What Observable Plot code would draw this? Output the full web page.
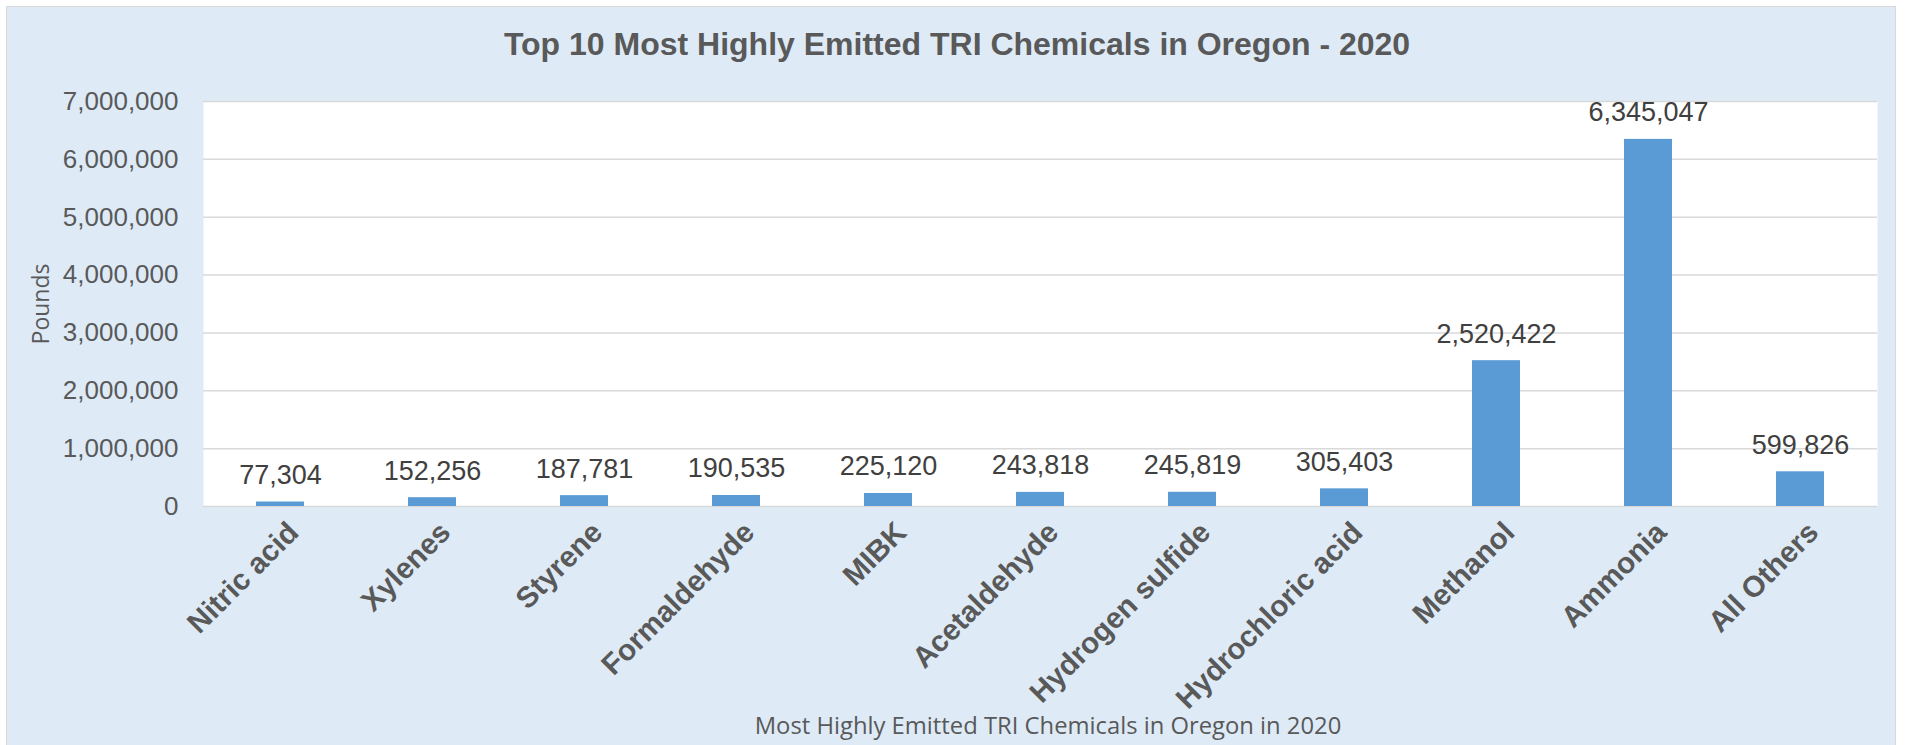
<!DOCTYPE html>
<html>
<head>
<meta charset="utf-8">
<script src="https://cdn.jsdelivr.net/npm/d3@7"></script>
<script src="https://cdn.jsdelivr.net/npm/@observablehq/plot@0.6"></script>
<style>
  html, body { margin: 0; padding: 0; background: #ffffff; overflow: hidden; }
  #wrap { position: relative; width: 1908px; height: 745px; overflow: hidden; }
  #panel { position: absolute; left: 6px; top: 6px; width: 1890px; height: 745px; background: #deebf7; border: 1.5px solid #d9d9d9; box-sizing: border-box; }
  #title { position: absolute; left: 0; top: 28px; width: 1914px; text-align: center; font: bold 32px "Liberation Sans", Arial, sans-serif; line-height: 32px; color: #595959; white-space: nowrap; }
  #caption { position: absolute; left: 0; top: 714px; width: 2096px; text-align: center; font: 23.8px "Open Sans", sans-serif; line-height: 23.8px; color: #595959; white-space: nowrap; }
  #chart { position: absolute; left: 0; top: 0; }
</style>
</head>
<body>
<div id="wrap">
  <div id="panel"></div>
  <div id="chart"></div>
  <div id="title">Top 10 Most Highly Emitted TRI Chemicals in Oregon - 2020</div>
  <div id="caption">Most Highly Emitted TRI Chemicals in Oregon in 2020</div>
</div>
<script>
const chemicals = ["Nitric acid", "Xylenes", "Styrene", "Formaldehyde", "MIBK", "Acetaldehyde", "Hydrogen sulfide", "Hydrochloric acid", "Methanol", "Ammonia", "All Others"];
const pounds = [77304, 152256, 187781, 190535, 225120, 243818, 245819, 305403, 2520422, 6345047, 599826];
const yTicks = [0, 1000000, 2000000, 3000000, 4000000, 5000000, 6000000, 7000000];
const yLabel = "Pounds";

const data = chemicals.map((c, i) => ({chemical: c, value: pounds[i]}));
const fmt = d3.format(",");

const chart = Plot.plot({
  width: 1908,
  height: 745,
  marginLeft: 203,
  marginRight: 31,
  marginTop: 101,
  marginBottom: 239,
  style: {background: "transparent", fontFamily: "'Liberation Sans', Arial, sans-serif", overflow: "visible"},
  x: {type: "band", domain: chemicals, paddingInner: 0.685, paddingOuter: 0.3425, align: 0.5},
  y: {domain: [0, 7000000]},
  marks: [
    Plot.frame({fill: "white", stroke: null}),
    Plot.gridY(yTicks, {stroke: "#d9d9d9", strokeOpacity: 1, strokeWidth: 1.5}),
    Plot.barY(data, {x: "chemical", y: "value", fill: "#5b9bd5"}),
    Plot.text(data, {x: "chemical", y: "value", text: d => fmt(d.value), lineAnchor: "bottom", dy: -18, fontSize: 27, fill: "#404040"}),
    Plot.axisY({ticks: yTicks, tickSize: 0, tickPadding: 25, tickFormat: fmt, fontSize: 26, fill: "#595959", label: null}),
    Plot.axisX({tickRotate: -45, tickSize: 0, tickPadding: 21, dx: 13, fontSize: 29.5, fontWeight: "bold", fill: "#595959", label: null}),
    Plot.text([yLabel], {frameAnchor: "left", textAnchor: "middle", text: d => d, rotate: -90, dx: -162, fontSize: 23, fill: "#595959", fontFamily: "'Open Sans', sans-serif"})
  ]
});
document.getElementById("chart").appendChild(chart);
</script>
</body>
</html>
